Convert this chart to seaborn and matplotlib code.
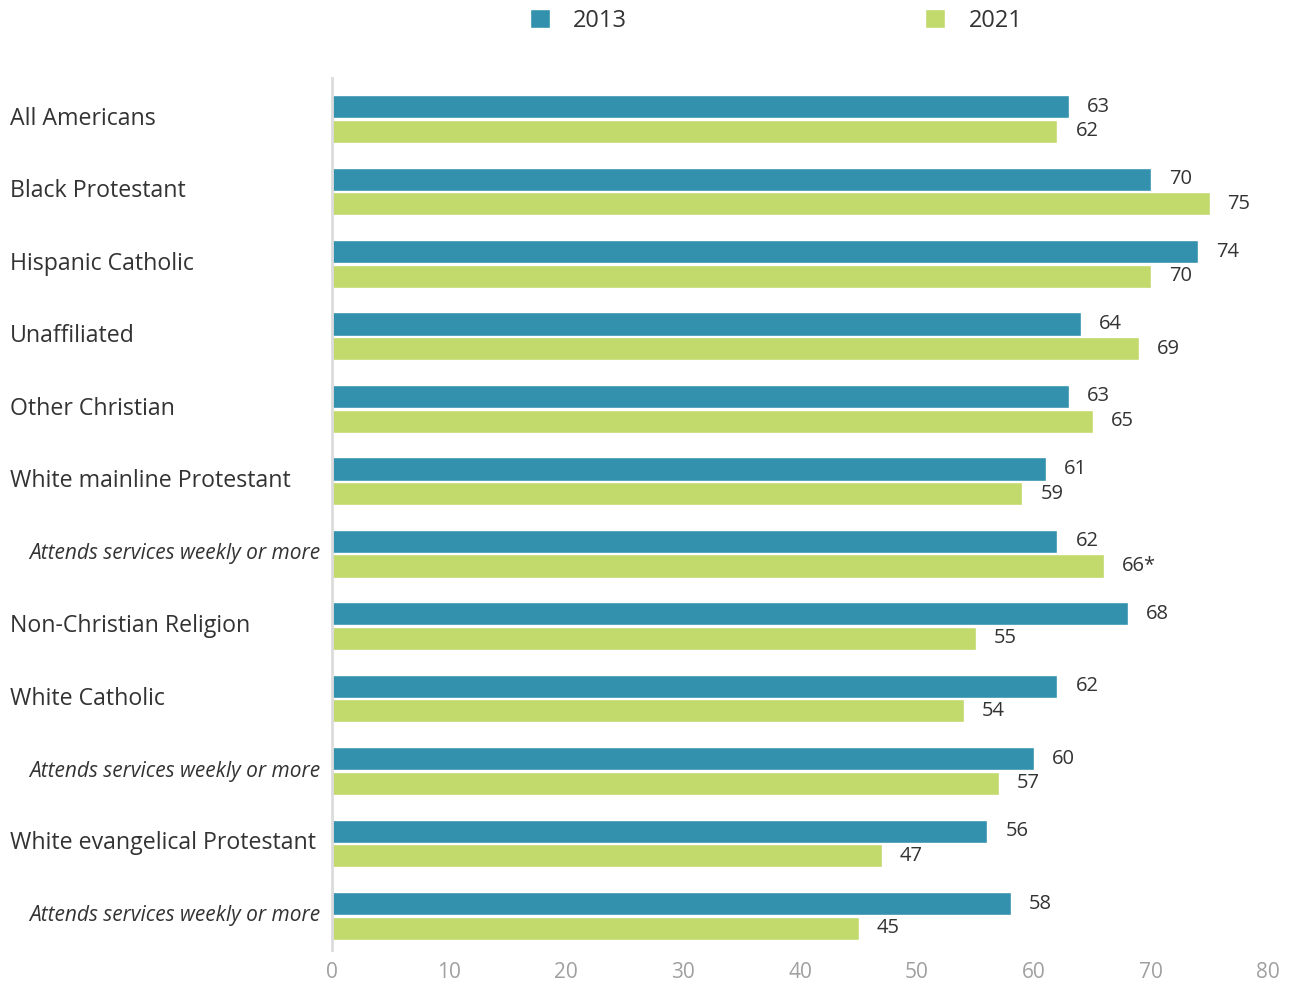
import matplotlib
matplotlib.use("Agg")
import matplotlib.pyplot as plt
import matplotlib.transforms as mtransforms
import seaborn as sns
import pandas as pd
from matplotlib.patches import Patch

categories = ["All Americans", "Black Protestant", "Hispanic Catholic", "Unaffiliated",
              "Other Christian", "White mainline Protestant", "Attends services weekly or more",
              "Non-Christian Religion", "White Catholic", "Attends services weekly or more ",
              "White evangelical Protestant", "Attends services weekly or more  "]
sub_rows = [6, 9, 11]
v2013 = [63, 70, 74, 64, 63, 61, 62, 68, 62, 60, 56, 58]
v2021 = [62, 75, 70, 69, 65, 59, 66, 55, 54, 57, 47, 45]
labels2021 = ["62", "75", "70", "69", "65", "59", "66*", "55", "54", "57", "47", "45"]
years = ["2013", "2021"]
colors = ["#3391ae", "#c2d96b"]

df = pd.DataFrame({
    "cat": categories * 2,
    "val": v2013 + v2021,
    "year": [years[0]] * len(categories) + [years[1]] * len(categories),
})

sns.set_style("white")
plt.rcParams["font.family"] = ["Open Sans", "DejaVu Sans"]

fig = plt.figure(figsize=(12.94, 9.85), dpi=100)
ax = fig.add_axes([332 / 1294, 1 - 950 / 985, (1268 - 332) / 1294, (950 - 78) / 985])

sns.barplot(data=df, y="cat", x="val", hue="year", order=categories, hue_order=years,
            palette=colors, orient="h", width=0.68, gap=0.06, saturation=1, ax=ax,
            legend=False)

ax.set_xlim(0, 80)
ax.set_ylim(11.47, -0.566)
ax.set_xticks(range(0, 81, 10))
ax.tick_params(axis="x", colors="#a0a0a0", labelsize=15, length=0, pad=9)
ax.set_yticks([])
ax.set_xlabel("")
ax.set_ylabel("")
for s in ["top", "right", "bottom"]:
    ax.spines[s].set_visible(False)
ax.spines["left"].set_color("#dcdcdc")
ax.spines["left"].set_linewidth(2)

# value labels
ax.bar_label(ax.containers[0], labels=[str(v) for v in v2013], padding=13,
             fontsize=14.5, color="#333333")
ax.bar_label(ax.containers[1], labels=labels2021, padding=13,
             fontsize=14.5, color="#333333")

# category labels
trans = mtransforms.blended_transform_factory(fig.transFigure, ax.transData)
for i, c in enumerate(categories):
    if i in sub_rows:
        ax.text(320 / 1294, i, c.strip(), transform=trans, ha="right", va="center",
                fontsize=15, style="italic", color="#333333")
    else:
        ax.text(10 / 1294, i, c, transform=trans, ha="left", va="center",
                fontsize=16.7, color="#333333")

# legend
handles = [Patch(facecolor=colors[0]), Patch(facecolor=colors[1])]
fig.legend(handles, years, loc="center", bbox_to_anchor=(776 / 1294, 1 - 21 / 985),
           ncol=2, frameon=False, fontsize=17, handlelength=0.85, handleheight=0.85,
           columnspacing=12.6, handletextpad=1.0, labelcolor="#333333")

fig.savefig("out.png", dpi=100)
